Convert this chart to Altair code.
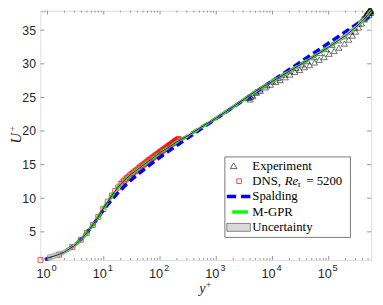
import altair as alt
import pandas as pd

# ---------------- data ----------------
exp_y = [3600, 3800, 4000, 4100, 4300, 4500, 5000, 5200, 6000, 6100, 7500, 8000, 9200, 10000,
         11500, 12500, 13700, 16000, 17000, 20000, 20500, 25000, 26000, 30500, 33000, 37000,
         42000, 45700, 55000, 56000, 68000, 70000, 83000, 90000, 102000, 115000, 125000,
         150000, 152000, 190000, 190000, 228000, 240000, 265000, 290000, 302000, 340000,
         340000, 385000, 400000, 430000, 450000, 470000, 480000, 500000, 510000, 520000,
         530000, 540000, 550000, 560000, 560000, 520000, 545000, 555000, 490000, 460000, 440000]
exp_u = [24.9, 25.0, 24.7, 25.1, 25.4, 25.2, 25.8, 25.7, 26.2, 26.0, 26.5, 26.8, 26.9, 27.4,
         27.3, 27.9, 27.6, 28.4, 28.0, 28.9, 28.4, 28.8, 29.4, 29.1, 29.9, 29.5,
         30.4, 29.8, 31.0, 30.2, 30.6, 31.6, 31.0, 32.2, 31.5, 32.8, 31.9,
         33.5, 32.4, 34.1, 33.0, 33.6, 34.8, 34.2, 35.4, 34.8, 36.0,
         35.4, 36.0, 36.7, 36.6, 37.2, 37.4, 37.1, 37.6, 37.7, 37.3,
         37.6, 37.9, 37.8, 38.0, 37.6, 37.9, 38.1, 37.9, 37.5, 37.0, 36.8]

dns_y = [0.75, 1.6, 2.75, 3.9, 5.0, 6.4, 8.0, 9.8, 11.8, 14, 16, 18, 20, 21.5, 23, 24.5, 26,
         27.7, 29.4, 31.2, 33.1, 35.1, 37.2, 39.4, 41.7, 44.1, 46.6, 49.2, 51.9, 54.7, 57.6,
         60.6, 63.7, 66.9, 70.2, 73.6, 77.1, 80.7, 84.4, 88.2, 92.1, 96.1, 100.2, 104.4, 108.7,
         113.1, 117.6, 122.2, 126.9, 131.7, 136.6, 141.6, 146.7, 151.9, 157.2, 162.6, 168.1,
         173.7, 179.4, 185.2, 191.1, 197.1, 203.2, 209.4, 215.7]
dns_u = [0.8, 1.6, 2.73, 3.83, 4.85, 6.0, 7.2, 8.4, 9.5, 10.4, 11.1, 11.6, 12.1, 12.35, 12.6,
         12.8, 13.0, 13.2, 13.4, 13.6, 13.75, 13.95, 14.1, 14.25, 14.45, 14.6, 14.75, 14.9,
         15.05, 15.2, 15.35, 15.5, 15.65, 15.75, 15.9, 16.0, 16.15, 16.25, 16.4, 16.5, 16.6,
         16.75, 16.85, 16.95, 17.05, 17.15, 17.25, 17.35, 17.45, 17.55, 17.65, 17.75, 17.85,
         17.9, 18.0, 18.1, 18.2, 18.25, 18.35, 18.45, 18.5, 18.6, 18.65, 18.75, 18.8]

spa_y = [0.9, 1.0, 2.0, 3.02, 4.06, 5.15, 6.35, 7.74, 9.42, 11.6, 14.55, 18.72, 24.76, 33.68,
         46.99, 66.98, 97.1, 142.5, 211.2, 314.8, 471, 1064, 2412, 5479, 12448, 28200, 64090,
         145440, 330240, 564000]
spa_u = [0.9, 1, 2, 3, 4, 5, 6, 7, 8, 9, 10, 11, 12, 13, 14, 15, 16, 17, 18, 19, 20, 22, 24, 26,
         28, 30, 32, 34, 36, 37.3]

gpr_y = [1.0, 1.5, 2, 3, 4, 5, 6.5, 8, 10, 12, 14, 17, 20, 25, 30, 40, 50, 70, 100, 150, 200,
         300, 500, 1000, 2000, 3000, 5000, 10000, 20000, 50000, 100000, 200000, 300000, 400000,
         500000, 560000]
gpr_u = [1.1, 1.55, 2.0, 2.95, 3.9, 4.85, 6.1, 7.2, 8.6, 9.6, 10.4, 11.4, 12.1, 12.9, 13.5, 14.3,
         14.9, 15.8, 16.8, 17.7, 18.4, 19.2, 20.4, 21.9, 23.6, 24.6, 25.9, 27.4, 28.9, 30.9, 32.5,
         34.2, 35.4, 36.4, 37.3, 37.9]
gpr_lo = [0.65, 1.15, 1.7, 2.7, 3.7, 4.65, 5.9, 7.0, 8.4, 9.4, 10.2, 11.2, 11.9, 12.7, 13.3, 14.1,
          14.7, 15.6, 16.6, 17.5, 18.2, 19.0, 20.2, 21.7, 23.4, 24.4, 25.7, 27.2, 28.7, 30.7, 32.3,
          33.9, 35.1, 36.1, 37.0, 37.6]
gpr_hi = [1.55, 1.95, 2.3, 3.2, 4.1, 5.05, 6.3, 7.4, 8.8, 9.8, 10.6, 11.6, 12.3, 13.1, 13.7, 14.5,
          15.1, 16.0, 17.0, 17.9, 18.6, 19.4, 20.6, 22.1, 23.8, 24.8, 26.1, 27.6, 29.1, 31.1, 32.7,
          34.5, 35.7, 36.7, 37.6, 38.2]

x_major = [1, 10, 100, 1000, 10000, 100000]
x_exponents = ["0", "1", "2", "3", "4", "5"]
x_minor = [0.8, 0.9] + [m * 10 ** d for d in range(0, 5) for m in range(2, 10)] + [200000, 300000, 400000, 500000]
y_ticks = [5, 10, 15, 20, 25, 30, 35]

# ---------------- layout ----------------
W, H = 337, 254
AX = "#7a7a7a"
TXT = "#262626"
xs = alt.Scale(type="log", domain=[0.746, 5.67e5])
ys = alt.Scale(domain=[0.82, 37.9])

yax = alt.Axis(values=y_ticks, tickSize=0, domain=False, grid=False,
               labelFont="Liberation Sans", labelFontSize=12.5, labelColor=TXT, labelPadding=5,
               title=None)

df_exp = pd.DataFrame({"y": exp_y, "u": exp_u})
df_dns = pd.DataFrame({"y": dns_y, "u": dns_u})
df_spa = pd.DataFrame({"y": spa_y, "u": spa_u})
df_gpr = pd.DataFrame({"y": gpr_y, "u": gpr_u, "lo": gpr_lo, "hi": gpr_hi})

X = alt.X("y:Q", scale=xs, axis=None)
Y = alt.Y("u:Q", scale=ys, axis=yax)

exp_l = alt.Chart(df_exp).mark_point(shape="triangle-up", filled=False, color="black",
                                     size=38, strokeWidth=0.8).encode(x=X, y=Y)
dns_l = alt.Chart(df_dns).mark_point(shape="square", filled=False, color="#ff0000",
                                     size=26, strokeWidth=1).encode(x=X, y=Y)
spa_l = alt.Chart(df_spa).mark_line(color="#0000ff", strokeWidth=3.5, strokeDash=[8, 4]
                                    ).encode(x=X, y=Y)
gpr_l = alt.Chart(df_gpr).mark_line(color="#00ff00", strokeWidth=3.5, strokeDash=[8, 4],
                                    strokeDashOffset=6).encode(x=X, y=Y)
band_l = alt.Chart(df_gpr).mark_area(color="#c8c8c8", opacity=0.8, stroke="#444444",
                                     strokeWidth=0.4).encode(x=X, y=alt.Y("lo:Q", scale=ys, axis=yax), y2="hi:Q")
mean_l = alt.Chart(df_gpr).mark_line(color="black", strokeWidth=0.8).encode(x=X, y=Y)

# ticks drawn inside the box (MATLAB style)
df_xmaj = pd.DataFrame({"y": x_major, "e": x_exponents})
df_xmin = pd.DataFrame({"y": x_minor})
df_yt = pd.DataFrame({"u": y_ticks})
tick_style = dict(color=AX, strokeWidth=0.8)
xt_b = alt.Chart(df_xmaj).mark_rule(**tick_style).encode(x=X, y=alt.value(H), y2=alt.value(H - 4))
xt_t = alt.Chart(df_xmaj).mark_rule(**tick_style).encode(x=X, y=alt.value(0), y2=alt.value(4))
xm_b = alt.Chart(df_xmin).mark_rule(**tick_style).encode(x=X, y=alt.value(H), y2=alt.value(H - 2))
xm_t = alt.Chart(df_xmin).mark_rule(**tick_style).encode(x=X, y=alt.value(0), y2=alt.value(2))
yt_l = alt.Chart(df_yt).mark_rule(**tick_style).encode(y=Y, x=alt.value(0), x2=alt.value(4))
yt_r = alt.Chart(df_yt).mark_rule(**tick_style).encode(y=Y, x=alt.value(W), x2=alt.value(W - 4))

# x tick labels 10^n
xl_base = alt.Chart(df_xmaj).mark_text(font="Liberation Sans", fontSize=13, color=TXT,
                                       align="center", baseline="middle", dx=-4).encode(
    x=X, y=alt.value(H + 14), text=alt.value("10"))
xl_exp = alt.Chart(df_xmaj).mark_text(font="Liberation Sans", fontSize=9.5, color=TXT,
                                      align="left", baseline="middle", dx=4).encode(
    x=X, y=alt.value(H + 8), text="e:N")

# axis titles
one = pd.DataFrame({"k": [0]})
tt = dict(font="Liberation Serif", color=TXT, baseline="middle")
x_t1 = alt.Chart(one).mark_text(fontStyle="italic", fontSize=14.5, align="center", **tt).encode(
    x=alt.value(165), y=alt.value(H + 29.5), text=alt.value("y"))
x_t2 = alt.Chart(one).mark_text(fontSize=9.5, align="center", **tt).encode(
    x=alt.value(171.5), y=alt.value(H + 26), text=alt.value("+"))
y_t1 = alt.Chart(one).mark_text(fontStyle="italic", fontSize=15, align="center", angle=270, **tt).encode(
    x=alt.value(-24.5), y=alt.value(130), text=alt.value("U"))
y_t2 = alt.Chart(one).mark_text(fontSize=9.5, align="center", angle=270, **tt).encode(
    x=alt.value(-27.5), y=alt.value(120.5), text=alt.value("+"))

# ---------------- legend ----------------
LX0, LX1, LY0, LY1 = 188, 316, 149, 231
rows = [158, 173.7, 189.4, 205.1, 220.8]
TX = 216
lg_box = alt.Chart(one).mark_rect(fill="white", stroke="#555555", strokeWidth=0.8).encode(
    x=alt.value(LX0), x2=alt.value(LX1), y=alt.value(LY0), y2=alt.value(LY1))
lg_tri = alt.Chart(one).mark_point(shape="triangle-up", filled=False, color="black", size=45,
                                   strokeWidth=0.9).encode(x=alt.value(197), y=alt.value(rows[0]))
lg_sq = alt.Chart(one).mark_point(shape="square", filled=False, color="#ff0000", size=22,
                                  strokeWidth=1).encode(x=alt.value(202.5), y=alt.value(rows[1]))
lg_spa = alt.Chart(one).mark_rule(color="#0000ff", strokeWidth=3.5, strokeDash=[9.5, 5]).encode(
    x=alt.value(190), x2=alt.value(214), y=alt.value(rows[2]))
lg_gpr = alt.Chart(one).mark_rule(color="#00ff00", strokeWidth=3.5).encode(
    x=alt.value(195.5), x2=alt.value(211.5), y=alt.value(rows[3]))
lg_unc = alt.Chart(one).mark_rect(fill="#d9d9d9", stroke="#555555", strokeWidth=0.7).encode(
    x=alt.value(190), x2=alt.value(214), y=alt.value(rows[4] - 4), y2=alt.value(rows[4] + 4))

lt = dict(font="Liberation Serif", fontSize=13, color="black", align="left", baseline="middle")


def ltext(txt, x, y, **kw):
    style = dict(lt)
    style.update(kw)
    return alt.Chart(one).mark_text(**style).encode(x=alt.value(x), y=alt.value(y),
                                                    text=alt.value(txt))


lg_texts = [
    ltext("Experiment", TX, rows[0]),
    ltext("DNS,", TX, rows[1]),
    ltext("Re", 249, rows[1], fontStyle="italic"),
    ltext("τ", 262, rows[1] + 3, fontStyle="italic", fontSize=9),
    ltext("= 5200", 271, rows[1]),
    ltext("Spalding", TX, rows[2]),
    ltext("M-GPR", TX, rows[3]),
    ltext("Uncertainty", TX, rows[4]),
]

chart = alt.layer(
    exp_l, dns_l, spa_l, gpr_l, band_l, mean_l,
    xt_b, xt_t, xm_b, xm_t, yt_l, yt_r, xl_base, xl_exp, x_t1, x_t2, y_t1, y_t2,
    lg_box, lg_tri, lg_sq, lg_spa, lg_gpr, lg_unc, *lg_texts
).properties(
    width=W, height=H,
    autosize=alt.AutoSizeParams(type="none"),
    padding={"left": 33, "top": 0, "right": 4, "bottom": 35},
).configure_view(stroke=AX, strokeWidth=1).configure(background="white")

chart.save("out.html", embed_options={"renderer": "svg", "actions": False})
